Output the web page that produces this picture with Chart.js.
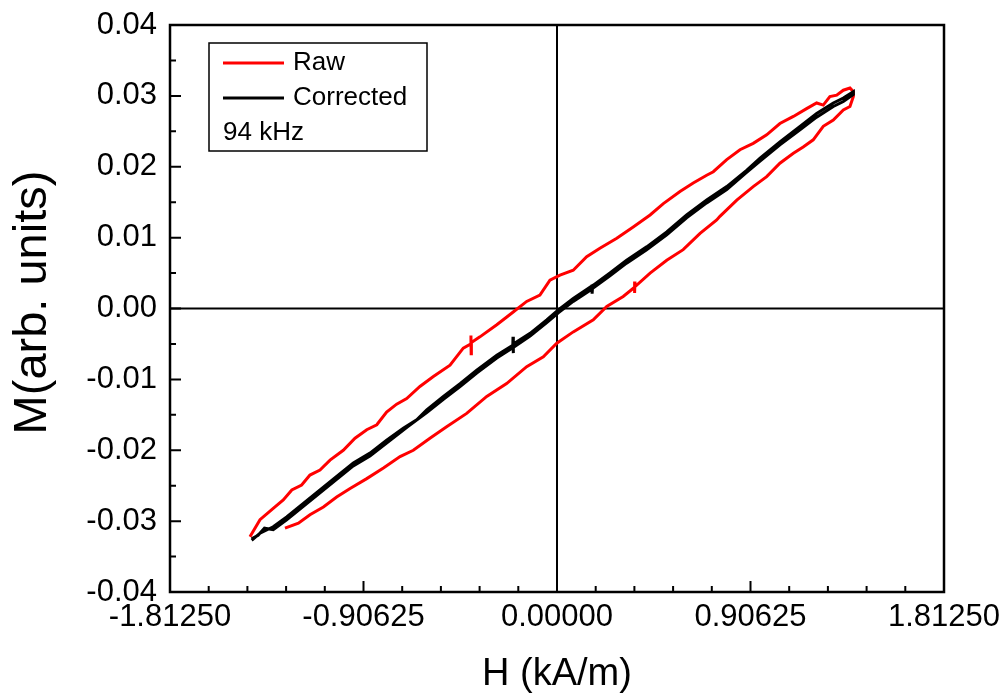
<!DOCTYPE html>
<html>
<head>
<meta charset="utf-8">
<script src="https://cdn.jsdelivr.net/npm/chart.js@4.4.0/dist/chart.umd.min.js"></script>
<style>
  body { margin: 0; background: #fff; }
  #wrap { width: 1007px; height: 697px; }
</style>
</head>
<body>
<div id="wrap"><canvas id="loop-1" width="1007" height="697"></canvas></div>
<script>
/* global Chart */

// axis ticks
const xMajor = [-1.8125, -0.90625, 0, 0.90625, 1.8125]
const yMajor = [-0.04, -0.03, -0.02, -0.01, 0, 0.01, 0.02, 0.03, 0.04]

// raw loop, rising branch then falling branch
const rawUpH = [-1.438, -1.391, -1.329, -1.282, -1.242, -1.196, -1.157, -1.110, -1.063, -1.001, -0.946, -0.891, -0.844, -0.798, -0.751, -0.704, -0.642, -0.579, -0.501, -0.439, -0.404, -0.403, -0.402, -0.401, -0.361, -0.282, -0.205, -0.142, -0.080, -0.033, 0.014, 0.076, 0.139, 0.201, 0.280, 0.357, 0.436, 0.498, 0.576, 0.638, 0.701, 0.732, 0.795, 0.857, 0.919, 0.982, 1.044, 1.107, 1.169, 1.216, 1.247, 1.278, 1.310, 1.341, 1.372, 1.388]
const rawUpM = [-0.0322, -0.0298, -0.0282, -0.0270, -0.0256, -0.0249, -0.0235, -0.0228, -0.0214, -0.0200, -0.0183, -0.0171, -0.0164, -0.0146, -0.0135, -0.0127, -0.0110, -0.0096, -0.0080, -0.0056, -0.0050, -0.0038, -0.0064, -0.0048, -0.0040, -0.0023, -0.0005, 0.0010, 0.0019, 0.0040, 0.0047, 0.0054, 0.0073, 0.0085, 0.0099, 0.0115, 0.0132, 0.0148, 0.0165, 0.0177, 0.0188, 0.0193, 0.0210, 0.0224, 0.0233, 0.0245, 0.0261, 0.0271, 0.0282, 0.0290, 0.0287, 0.0299, 0.0301, 0.0308, 0.0311, 0.0306]
const rawDownH = [1.388, 1.372, 1.341, 1.294, 1.247, 1.200, 1.153, 1.107, 1.044, 0.982, 0.919, 0.842, 0.763, 0.748, 0.670, 0.591, 0.514, 0.436, 0.366, 0.365, 0.364, 0.363, 0.310, 0.233, 0.170, 0.076, -0.001, -0.064, -0.142, -0.236, -0.329, -0.423, -0.517, -0.595, -0.673, -0.735, -0.813, -0.891, -0.969, -1.032, -1.094, -1.157, -1.211, -1.274]
const rawDownM = [0.0299, 0.0285, 0.0280, 0.0266, 0.0257, 0.0238, 0.0228, 0.0219, 0.0205, 0.0186, 0.0172, 0.0153, 0.0130, 0.0125, 0.0106, 0.0083, 0.0068, 0.0050, 0.0031, 0.0038, 0.0022, 0.0030, 0.0017, 0.0003, -0.0016, -0.0033, -0.0049, -0.0068, -0.0082, -0.0106, -0.0124, -0.0148, -0.0167, -0.0183, -0.0200, -0.0209, -0.0225, -0.0240, -0.0254, -0.0266, -0.0280, -0.0291, -0.0303, -0.0310]

// corrected loop
const corrUpH = [-1.430, -1.391, -1.329, -1.266, -1.188, -1.110, -1.032, -0.954, -0.876, -0.798, -0.720, -0.657, -0.610, -0.532, -0.454, -0.376, -0.282, -0.207, -0.206, -0.205, -0.204, -0.126, -0.048, 0.006, 0.076, 0.170, 0.248, 0.326, 0.420, 0.514, 0.607, 0.701, 0.795, 0.888, 0.951, 1.044, 1.138, 1.216, 1.294, 1.341, 1.388]
const corrUpM = [-0.0327, -0.0317, -0.0308, -0.0294, -0.0275, -0.0256, -0.0237, -0.0218, -0.0204, -0.0186, -0.0169, -0.0157, -0.0143, -0.0124, -0.0106, -0.0087, -0.0066, -0.0052, -0.0040, -0.0063, -0.0050, -0.0035, -0.0016, -0.0002, 0.0014, 0.0033, 0.0050, 0.0068, 0.0087, 0.0108, 0.0132, 0.0153, 0.0172, 0.0195, 0.0212, 0.0235, 0.0257, 0.0275, 0.0290, 0.0297, 0.0306]
const corrDownH = [1.388, 1.341, 1.294, 1.216, 1.138, 1.044, 0.951, 0.888, 0.795, 0.701, 0.607, 0.514, 0.420, 0.326, 0.248, 0.166, 0.165, 0.164, 0.163, 0.076, 0.006, -0.048, -0.126, -0.205, -0.282, -0.376, -0.454, -0.532, -0.610, -0.700, -0.798, -0.876, -0.954, -1.032, -1.110, -1.188, -1.266, -1.329, -1.370, -1.400, -1.430]
const corrDownM = [0.0302, 0.0292, 0.0285, 0.0270, 0.0252, 0.0231, 0.0208, 0.0192, 0.0168, 0.0149, 0.0128, 0.0104, 0.0083, 0.0064, 0.0046, 0.0028, 0.0034, 0.0021, 0.0027, 0.0010, -0.0006, -0.0020, -0.0039, -0.0055, -0.0070, -0.0091, -0.0110, -0.0128, -0.0147, -0.0167, -0.0190, -0.0208, -0.0222, -0.0241, -0.0260, -0.0279, -0.0298, -0.0312, -0.0310, -0.0320, -0.0325]

const FONT = "'Liberation Sans', Arial, sans-serif"

function zip (hs, ms) {
  return hs.map((h, i) => ({ x: h, y: ms[i] }))
}

// zero lines under the curves, frame + inward ticks over them
const axisDecor = {
  id: 'axisDecor',
  beforeDatasetsDraw (chart) {
    const { ctx, chartArea: a, scales } = chart
    const x0 = scales.x.getPixelForValue(0)
    const y0 = scales.y.getPixelForValue(0)
    ctx.save()
    ctx.strokeStyle = '#000'
    ctx.lineWidth = 2
    ctx.beginPath()
    ctx.moveTo(x0, a.top)
    ctx.lineTo(x0, a.bottom)
    ctx.moveTo(a.left, y0)
    ctx.lineTo(a.right, y0)
    ctx.stroke()
    ctx.restore()
  },
  afterDatasetsDraw (chart) {
    const { ctx, chartArea: a, scales } = chart
    ctx.save()
    ctx.strokeStyle = '#000'
    ctx.lineWidth = 2
    ctx.beginPath()
    for (let i = 0; i < xMajor.length; i++) {
      const px = scales.x.getPixelForValue(xMajor[i])
      ctx.moveTo(px, a.bottom)
      ctx.lineTo(px, a.bottom - 11)
      if (i < xMajor.length - 1) {
        const step = (xMajor[i + 1] - xMajor[i]) / 5
        for (let k = 1; k < 5; k++) {
          const mx = scales.x.getPixelForValue(xMajor[i] + k * step)
          ctx.moveTo(mx, a.bottom)
          ctx.lineTo(mx, a.bottom - 6)
        }
      }
    }
    for (let i = 0; i < yMajor.length; i++) {
      const py = scales.y.getPixelForValue(yMajor[i])
      ctx.moveTo(a.left, py)
      ctx.lineTo(a.left + 11, py)
      if (i < yMajor.length - 1) {
        const my = scales.y.getPixelForValue((yMajor[i] + yMajor[i + 1]) / 2)
        ctx.moveTo(a.left, my)
        ctx.lineTo(a.left + 6, my)
      }
    }
    ctx.stroke()
    ctx.lineWidth = 2.5
    ctx.strokeRect(a.left, a.top, a.right - a.left, a.bottom - a.top)
    ctx.restore()
  }
}

// legend box and axis titles
const boxLegend = {
  id: 'boxLegend',
  afterDraw (chart) {
    const { ctx, chartArea: a } = chart
    const left = a.left + 39
    const top = a.top + 18
    ctx.save()
    ctx.strokeStyle = '#000'
    ctx.lineWidth = 1.5
    ctx.strokeRect(left, top, 218, 108)
    ctx.font = `26px ${FONT}`
    ctx.textBaseline = 'middle'
    ctx.fillStyle = '#000'
    const rows = [chart.data.datasets[0], chart.data.datasets[1]]
    rows.forEach((ds, i) => {
      const y = top + 20 + i * 35
      ctx.strokeStyle = ds.borderColor
      ctx.lineWidth = 3
      ctx.beginPath()
      ctx.moveTo(left + 14, y)
      ctx.lineTo(left + 75, y)
      ctx.stroke()
      ctx.fillText(ds.label, left + 84, y)
    })
    ctx.fillText('94 kHz', left + 14, top + 90)

    ctx.textAlign = 'center'
    ctx.font = `38px ${FONT}`
    ctx.fillText('H (kA/m)', (a.left + a.right) / 2, 675)
    ctx.translate(33, (a.top + a.bottom) / 2 - 6)
    ctx.rotate(-Math.PI / 2)
    ctx.font = `47px ${FONT}`
    ctx.fillText('M(arb. units)', 0, 0)
    ctx.restore()
  }
}

class LoopChart {
  constructor (elementId, options) {
    this.elementId = elementId
    this.options = Object.assign({}, options)
    const el = document.getElementById(this.elementId)
    if (!el) {
      console.error(`no element found with id - ${this.elementId}`)
      return
    }
    const config = {
      type: 'scatter',
      data: {
        datasets: [
          { label: 'Raw', data: zip(rawUpH.concat(rawDownH), rawUpM.concat(rawDownM)), borderColor: '#ff0000', borderWidth: 3, order: 2 },
          { label: 'Corrected', data: zip(corrUpH.concat(corrDownH), corrUpM.concat(corrDownM)), borderColor: '#000000', borderWidth: 3, order: 1 }
        ]
      },
      options: {
        responsive: false,
        animation: false,
        layout: { padding: { left: 0, top: 25, right: 63, bottom: 0 } },
        datasets: {
          scatter: { showLine: true, pointRadius: 0, tension: 0, fill: false }
        },
        plugins: { legend: { display: false }, tooltip: { enabled: false } },
        scales: {
          x: {
            type: 'linear',
            min: -1.8125,
            max: 1.8125,
            grid: { display: false, drawTicks: false },
            border: { display: false },
            afterBuildTicks: s => { s.ticks = xMajor.map(v => ({ value: v })) },
            afterFit: s => {
              s.height = 105
              s.paddingLeft = 0
              s.paddingRight = 0
            },
            ticks: {
              color: '#000',
              padding: 7,
              maxRotation: 0,
              autoSkip: false,
              font: { family: FONT, size: 31 },
              callback: v => v.toFixed(5)
            }
          },
          y: {
            min: -0.04,
            max: 0.04,
            grid: { display: false, drawTicks: false },
            border: { display: false },
            afterBuildTicks: s => { s.ticks = yMajor.map(v => ({ value: v })) },
            afterFit: s => {
              s.width = 170
              s.paddingTop = 0
              s.paddingBottom = 0
            },
            ticks: {
              color: '#000',
              padding: 13,
              autoSkip: false,
              font: { family: FONT, size: 31 },
              callback: v => v.toFixed(2)
            }
          }
        }
      },
      plugins: [axisDecor, boxLegend]
    }
    this.chart = new Chart(el, config)
  }
}

const loop = new LoopChart('loop-1', {})
</script>
</body>
</html>
